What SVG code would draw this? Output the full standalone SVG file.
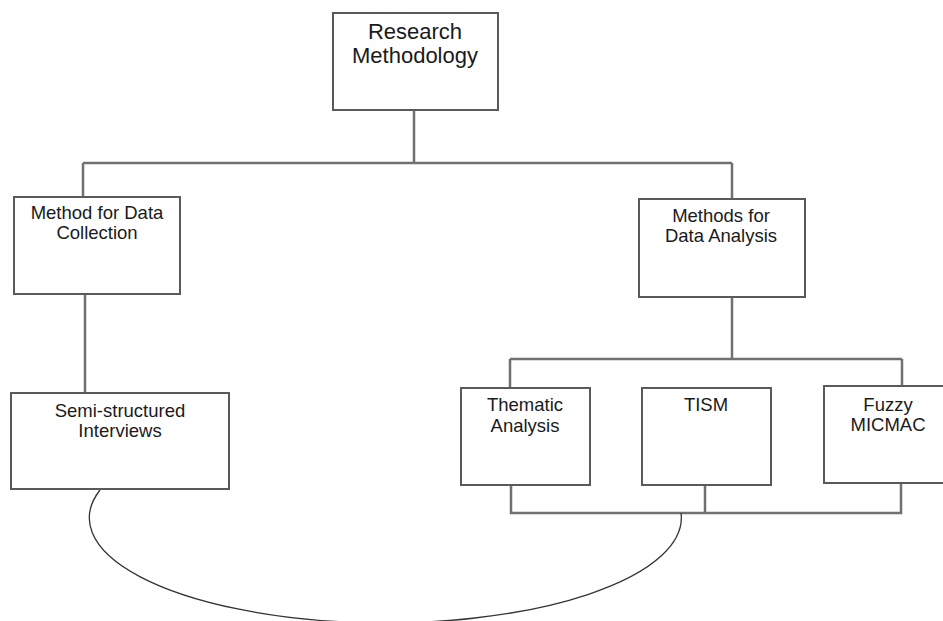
<svg xmlns="http://www.w3.org/2000/svg" width="943" height="621" viewBox="0 0 943 621">
  <style>
    .box { fill: #ffffff; stroke: #5a5a5a; stroke-width: 2; }
    .lbl { font-family: "Liberation Sans", Arial, sans-serif; font-size: 18.5px; fill: #1a1a1a; text-anchor: middle; }
    .big { font-size: 22px; }
    .wire { fill: none; stroke: #707070; stroke-width: 2.5; }
    .loop { fill: none; stroke: #333333; stroke-width: 1.3; }
  </style>
  <rect width="943" height="621" fill="#ffffff"/>

  <!-- connectors -->
  <g id="connectors">
    <path class="wire" d="M414 110 V163 M83 163 H732 M83 163 V197 M732 163 V199"/>
    <path class="wire" d="M85 294 V393"/>
    <path class="wire" d="M732 297 V359 M510 359 H902 M510 359 V388 M902 359 V386"/>
    <path class="wire" d="M511 485 V513 H901 V483 M705 485 V513"/>
    <path class="loop" d="M100 490 A296 105 0 1 0 681 513"/>
  </g>

  <g id="research-methodology">
    <rect class="box" x="333" y="13" width="165" height="97"/>
    <text class="lbl big" x="415" y="39">Research</text>
    <text class="lbl big" x="415" y="63">Methodology</text>
  </g>

  <g id="data-collection">
    <rect class="box" x="14" y="197" width="166" height="97"/>
    <text class="lbl" x="97" y="219">Method for Data</text>
    <text class="lbl" x="97" y="239">Collection</text>
  </g>

  <g id="data-analysis">
    <rect class="box" x="639" y="199" width="166" height="98"/>
    <text class="lbl" x="721" y="222">Methods for</text>
    <text class="lbl" x="721" y="242">Data Analysis</text>
  </g>

  <g id="interviews">
    <rect class="box" x="11" y="393" width="218" height="96"/>
    <text class="lbl" x="120" y="417">Semi-structured</text>
    <text class="lbl" x="120" y="437">Interviews</text>
  </g>

  <g id="thematic-analysis">
    <rect class="box" x="461" y="388" width="129" height="97"/>
    <text class="lbl" x="525" y="411">Thematic</text>
    <text class="lbl" x="525" y="432">Analysis</text>
  </g>

  <g id="tism">
    <rect class="box" x="642" y="388" width="129" height="97"/>
    <text class="lbl" x="706" y="411">TISM</text>
  </g>

  <g id="fuzzy-micmac">
    <rect class="box" x="824" y="386" width="129" height="97"/>
    <text class="lbl" x="888" y="411">Fuzzy</text>
    <text class="lbl" x="888" y="431">MICMAC</text>
  </g>
</svg>
